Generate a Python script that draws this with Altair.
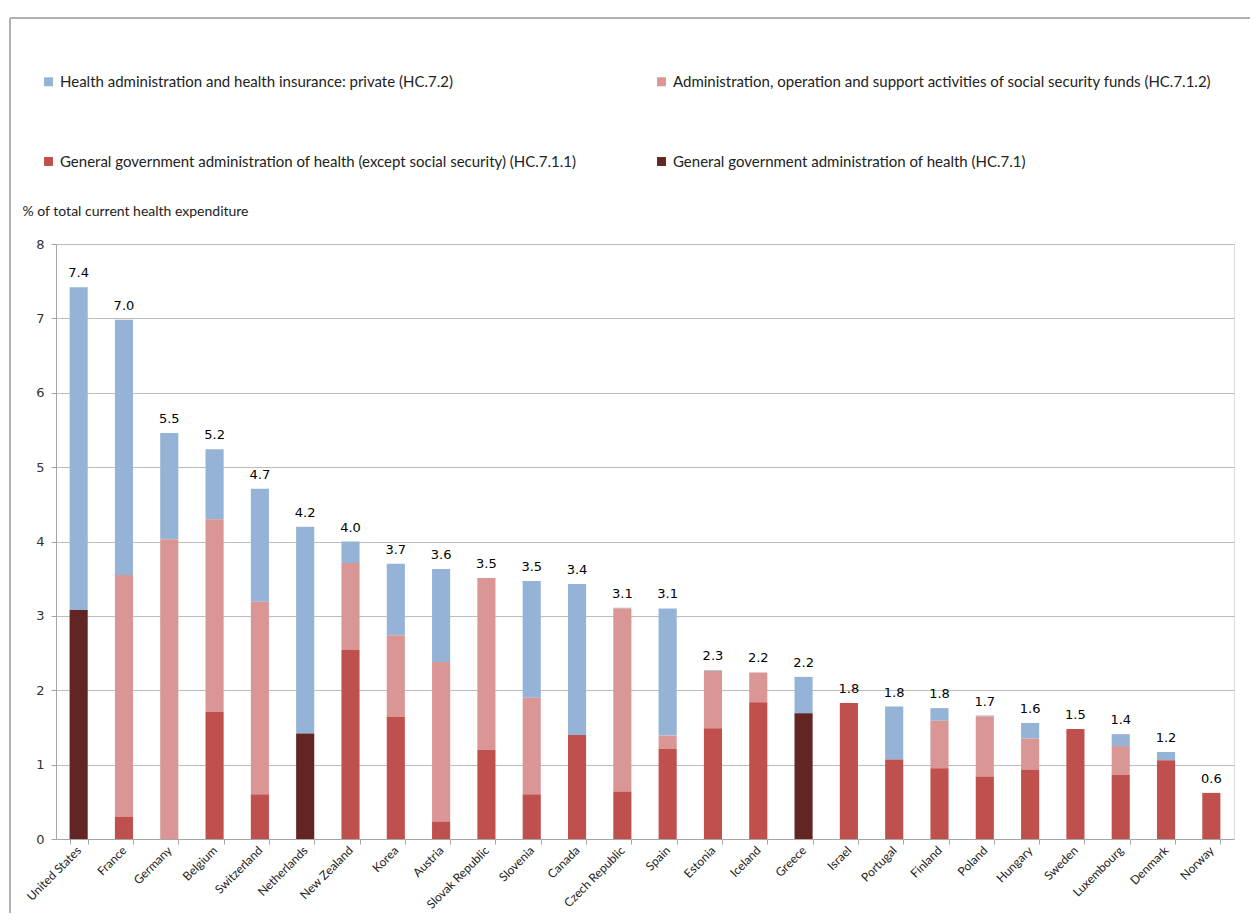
import altair as alt
import pandas as pd

countries = ["United States", "France", "Germany", "Belgium", "Switzerland", "Netherlands",
             "New Zealand", "Korea", "Austria", "Slovak Republic", "Slovenia", "Canada",
             "Czech Republic", "Spain", "Estonia", "Iceland", "Greece", "Israel", "Portugal",
             "Finland", "Poland", "Hungary", "Sweden", "Luxembourg", "Denmark", "Norway"]

# General government administration of health (HC.7.1)
hc71 = [3.08, 0, 0, 0, 0, 1.42, 0, 0, 0, 0, 0, 0, 0, 0, 0, 0, 1.69, 0, 0, 0, 0, 0, 0, 0, 0, 0]
# General government administration of health (except social security) (HC.7.1.1)
hc711 = [0, 0.30, 0, 1.71, 0.60, 0, 2.54, 1.64, 0.23, 1.20, 0.60, 1.40, 0.64, 1.21, 1.49, 1.84,
         0, 1.83, 1.07, 0.95, 0.84, 0.93, 1.48, 0.86, 1.06, 0.62]
# Administration, operation and support activities of social security funds (HC.7.1.2)
hc712 = [0, 3.25, 4.03, 2.59, 2.59, 0, 1.17, 1.10, 2.15, 2.31, 1.30, 0, 2.46, 0.18, 0.77, 0.40,
         0, 0, 0, 0.64, 0.81, 0.42, 0, 0.39, 0, 0]
# Health administration and health insurance: private (HC.7.2)
hc72 = [4.34, 3.43, 1.43, 0.94, 1.52, 2.78, 0.29, 0.96, 1.25, 0.0, 1.57, 2.03, 0.01, 1.71, 0.01,
        0, 0.49, 0, 0.71, 0.17, 0.01, 0.21, 0, 0.16, 0.11, 0]

series_names = [
    "Health administration and health insurance: private (HC.7.2)",
    "Administration, operation and support activities of social security funds (HC.7.1.2)",
    "General government administration of health (except social security) (HC.7.1.1)",
    "General government administration of health (HC.7.1)",
]
series_values = [hc72, hc712, hc711, hc71]
series_stack = [3, 2, 1, 0]
series_colors = ["#95B3D7", "#DA9694", "#C0504D", "#632523"]

rows = []
for name, vals, st in zip(series_names, series_values, series_stack):
    for c, v in zip(countries, vals):
        rows.append({"country": c, "series": name, "value": v, "stack": st})
df = pd.DataFrame(rows)

W, H = 1178, 595

x_enc = alt.X("country:N", sort=countries, title=None,
              scale=alt.Scale(paddingInner=0.6, paddingOuter=0.3),
              axis=alt.Axis(labelAngle=-45, labelAlign="right", labelBaseline="middle",
                            labelFont="Lato", labelFontSize=12, labelColor="#222222",
                            labelPadding=4, tickBand="extent", tickSize=5,
                            tickColor="#a6a6a6", domainColor="#a6a6a6", grid=False))

bars = alt.Chart(df).mark_bar().encode(
    x=x_enc,
    y=alt.Y("sum(value):Q", title="% of total current  health expenditure",
            scale=alt.Scale(domain=[0, 8], nice=False),
            axis=alt.Axis(values=[0, 1, 2, 3, 4, 5, 6, 7, 8], format="d",
                          labelFont="DejaVu Sans", labelFontSize=13, labelColor="#333333",
                          labelPadding=7, tickSize=5, tickColor="#a6a6a6",
                          domainColor="#a6a6a6", gridColor="#bdbdbd",
                          titleAngle=0, titleAlign="left", titleBaseline="middle",
                          titleX=-34, titleY=-33, titleFont="Lato", titleFontSize=14,
                          titleFontWeight="normal", titleColor="#222222")),
    color=alt.Color("series:N", sort=series_names,
                    scale=alt.Scale(domain=series_names, range=series_colors),
                    legend=alt.Legend(orient="none", legendX=-15, legendY=-170, title=None,
                                      direction="horizontal",
                                      columns=2, columnPadding=77, rowPadding=64,
                                      symbolType="square", symbolSize=80,
                                      symbolStrokeWidth=0, labelFont="Lato",
                                      labelFontSize=15, labelColor="#222222",
                                      labelOffset=4, labelLimit=1000, padding=0)),
    order=alt.Order("stack:Q", sort="ascending"),
)

labels = alt.Chart(df).transform_aggregate(
    total="sum(value)", groupby=["country"]
).mark_text(baseline="bottom", dy=-7, font="DejaVu Sans", fontSize=13, color="#000000").encode(
    x=alt.X("country:N", sort=countries),
    y=alt.Y("total:Q"),
    text=alt.Text("total:Q", format=".1f"),
)

frame_left = alt.Chart(df).mark_rule(color="#b0b0b0", strokeWidth=1).encode(
    x=alt.value(-46), y=alt.value(-226), y2=alt.value(H + 90))
frame_top = alt.Chart(df).mark_rule(color="#b0b0b0", strokeWidth=1).encode(
    x=alt.value(-46), x2=alt.value(W + 30), y=alt.value(-226))

chart = alt.layer(bars, labels, frame_left, frame_top).properties(
    width=W, height=H,
    autosize=alt.AutoSizeParams(type="none"),
    padding={"left": 48, "top": 236, "right": 16, "bottom": 74},
).configure_view(stroke=None).configure(background="white")

chart.save("out.html", embed_options={"renderer": "svg", "actions": False})
